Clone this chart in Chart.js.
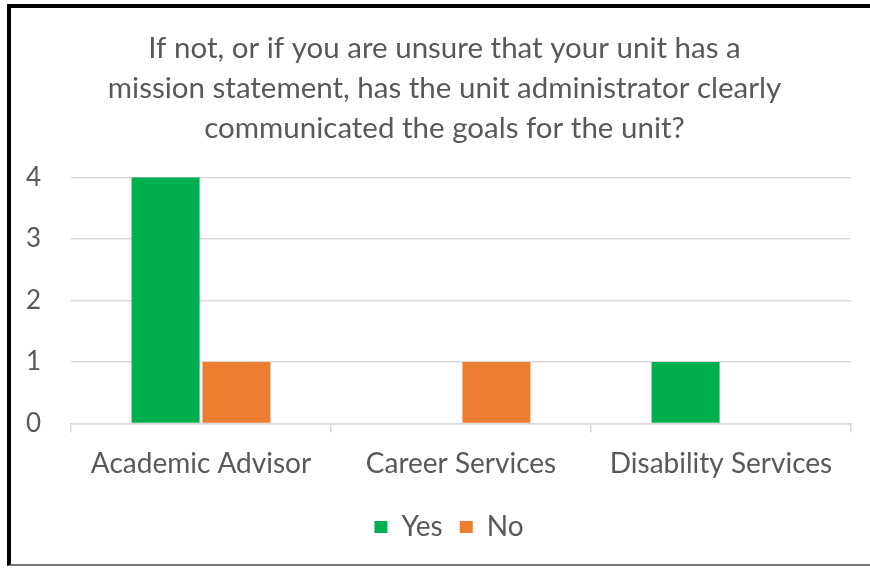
<!DOCTYPE html>
<html>
<head>
<meta charset="utf-8">
<script src="https://cdn.jsdelivr.net/npm/chart.js@4/dist/chart.umd.min.js"></script>
<style>
  body { margin: 0; background: #fff; }
  #frame {
    position: absolute; left: 7px; top: 4px;
    width: 863px; height: 562px;
    border-left: 4px solid #000; border-top: 4px solid #000;
    border-bottom: 2px solid #777;
    box-sizing: border-box;
  }
  canvas { display: block; }
</style>
</head>
<body>
<div id="frame"><canvas id="myChart" width="859" height="560"></canvas></div>
<script>
const titleLines = [
    'If not, or if you are unsure that your unit has a',
    'mission statement, has the unit administrator clearly',
    'communicated the goals for the unit?'
];
const categories = ['Academic Advisor', 'Career Services', 'Disability Services'];
const yesValues = [4, 0, 1];
const noValues = [1, 1, 0];
const yTicks = [0, 1, 2, 3, 4];

const textColor = '#595959';
const gridColor = '#d9d9d9';
const fontFamily = 'Lato, "Open Sans", sans-serif';

// title and legend sit a bit right of the plot's centre in the original
const boxShift = {
    id: 'boxShift',
    afterLayout(chart) {
        if (chart.titleBlock) {
            chart.titleBlock.left = 8;
            chart.titleBlock.right = chart.width;
        }
        if (chart.legend) {
            chart.legend.left += 18;
            chart.legend.right += 18;
        }
    }
};

let ctx = document.getElementById('myChart').getContext('2d');
let myChart = new Chart(ctx, {
    type: 'bar',
    data: {
        labels: categories,
        datasets: [{
            label: 'Yes',
            data: yesValues,
            backgroundColor: '#00B050',
            categoryPercentage: 0.545,
            barPercentage: 0.96
        }, {
            label: 'No',
            data: noValues,
            backgroundColor: '#ED7D31',
            categoryPercentage: 0.545,
            barPercentage: 0.96
        }]
    },
    options: {
        responsive: false,
        animation: false,
        layout: {
            padding: { left: 0, right: 19, top: 20, bottom: 17 }
        },
        plugins: {
            title: {
                display: true,
                text: titleLines,
                color: textColor,
                font: { family: fontFamily, size: 29.5, weight: 'normal', lineHeight: 1.36 },
                padding: { top: 0, bottom: 29 }
            },
            legend: {
                position: 'bottom',
                labels: {
                    color: textColor,
                    font: { family: fontFamily, size: 28 },
                    boxWidth: 13,
                    boxHeight: 12,
                    padding: 17
                }
            },
            tooltip: { enabled: false }
        },
        scales: {
            x: {
                grid: {
                    drawOnChartArea: false,
                    color: gridColor,
                    tickLength: 9,
                    lineWidth: 1.5
                },
                border: { color: gridColor, width: 1.5 },
                ticks: {
                    color: textColor,
                    font: { family: fontFamily, size: 28 },
                    padding: 15,
                    maxRotation: 0
                }
            },
            y: {
                min: 0,
                max: 4,
                afterBuildTicks: (scale) => {
                    scale.ticks = yTicks.map(v => ({ value: v }));
                },
                afterFit: (scale) => { scale.width = 60; },
                grid: {
                    color: gridColor,
                    lineWidth: 1.5,
                    drawTicks: false
                },
                border: { display: false },
                ticks: {
                    color: textColor,
                    font: { family: fontFamily, size: 26 },
                    padding: 30
                }
            }
        }
    },
    plugins: [boxShift]
});
</script>
</body>
</html>
